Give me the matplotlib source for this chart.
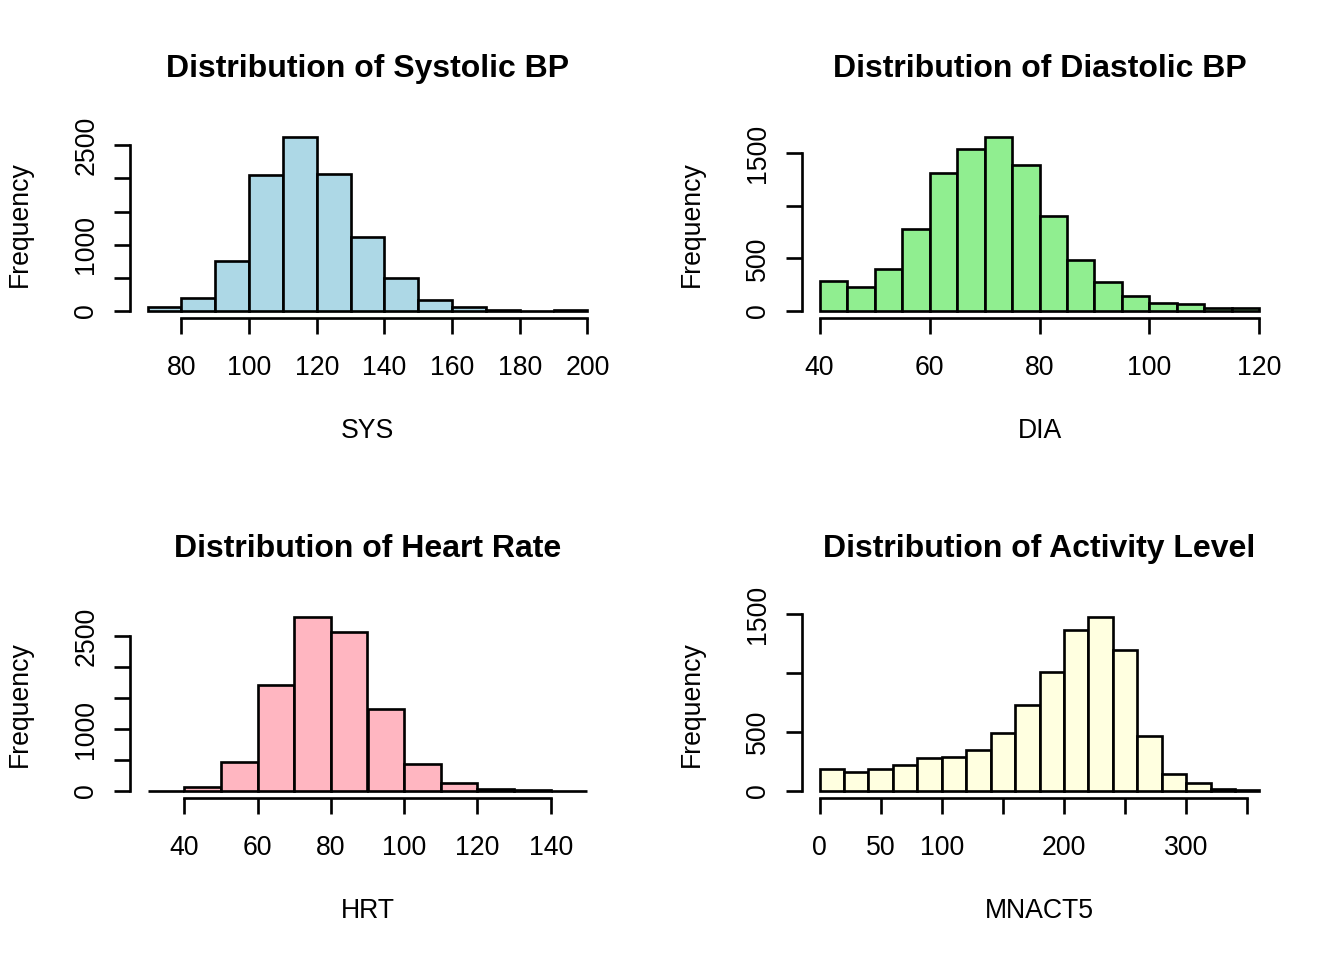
import numpy as np
import matplotlib
matplotlib.use("Agg")
import matplotlib.pyplot as plt

plt.rcParams["font.family"] = ["Liberation Sans", "DejaVu Sans"]

# --- Data (histogram counts per bin) --------------------------------------
sys_breaks = [70, 80, 90, 100, 110, 120, 130, 140, 150, 160, 170, 180, 190, 200]
sys_counts = [60, 200, 750, 2045, 2625, 2065, 1110, 505, 167, 61, 20, 5, 20]

dia_breaks = [40, 45, 50, 55, 60, 65, 70, 75, 80, 85, 90, 95, 100, 105, 110, 115, 120]
dia_counts = [286, 229, 400, 775, 1309, 1535, 1652, 1385, 899, 489, 280, 146, 79, 70, 32, 32]

hrt_breaks = [30, 40, 50, 60, 70, 80, 90, 100, 110, 120, 130, 140, 150]
hrt_counts = [1, 65, 472, 1719, 2815, 2570, 1323, 439, 130, 33, 16, 2]

act_breaks = [0, 20, 40, 60, 80, 100, 120, 140, 160, 180, 200, 220, 240,
              260, 280, 300, 320, 340, 360]
act_counts = [190, 165, 190, 219, 284, 293, 344, 489, 727, 1009, 1366, 1477,
              1196, 466, 148, 65, 20, 11]

sys_xticks = [80, 100, 120, 140, 160, 180, 200]
dia_xticks = [40, 60, 80, 100, 120]
hrt_xticks = [40, 60, 80, 100, 120, 140]
act_xticks = [0, 50, 100, 150, 200, 250, 300, 350]
act_xlabels = ["0", "50", "100", "", "200", "", "300", ""]

big_yticks = [0, 500, 1000, 1500, 2000, 2500]
big_ylabels = ["0", "", "1000", "", "", "2500"]
small_yticks = [0, 500, 1000, 1500]
small_ylabels = ["0", "500", "", "1500"]

panels = [
    ("Distribution of Systolic BP", "SYS", sys_breaks, sys_counts, "#ADD8E6",
     sys_xticks, None, big_yticks, big_ylabels),
    ("Distribution of Diastolic BP", "DIA", dia_breaks, dia_counts, "#90EE90",
     dia_xticks, None, small_yticks, small_ylabels),
    ("Distribution of Heart Rate", "HRT", hrt_breaks, hrt_counts, "#FFB6C1",
     hrt_xticks, None, big_yticks, big_ylabels),
    ("Distribution of Activity Level", "MNACT5", act_breaks, act_counts, "#FFFFE0",
     act_xticks, act_xlabels, small_yticks, small_ylabels),
]

W, H = 1344, 960
fig = plt.figure(figsize=(7, 5), dpi=192)

# plot region inside each 672x480 cell (pixels, from top-left)
PL, PR, PT, PB = 130, 605, 130, 318

for i, (title, xlab, breaks, counts, color, xt, xtl, yt, ytl) in enumerate(panels):
    col, row = i % 2, i // 2
    x0 = PL + 672 * col
    x1 = PR + 672 * col
    y0 = PT + 480 * row
    y1 = PB + 480 * row
    ax = fig.add_axes([x0 / W, 1 - y1 / H, (x1 - x0) / W, (y1 - y0) / H])

    edges = np.array(breaks, dtype=float)
    ax.bar(edges[:-1], counts, width=np.diff(edges), align="edge",
           color=color, edgecolor="black", linewidth=1.0)

    xr = edges[-1] - edges[0]
    ax.set_xlim(edges[0] - 0.04 * xr, edges[-1] + 0.04 * xr)
    ym = max(counts)
    ax.set_ylim(-0.04 * ym, 1.04 * ym)

    for s in ("top", "right"):
        ax.spines[s].set_visible(False)
    ax.spines["left"].set_bounds(yt[0], yt[-1])
    ax.spines["bottom"].set_bounds(xt[0], xt[-1])
    ax.spines["left"].set_linewidth(1.0)
    ax.spines["bottom"].set_linewidth(1.0)

    ax.set_xticks(xt)
    ax.set_xticklabels(xtl if xtl is not None else [str(v) for v in xt])
    ax.set_yticks(yt)
    ax.set_yticklabels(ytl, rotation=90, va="center")
    ax.tick_params(axis="x", direction="out", length=6, width=1.0,
                   labelsize=10, pad=8)
    ax.tick_params(axis="y", direction="out", length=6, width=1.0,
                   labelsize=10, pad=5.5)

    ax.text(0.5, (PB - 77) / (PB - PT), title, transform=ax.transAxes,
            ha="center", va="baseline", fontsize=12, fontweight="bold")
    ax.text(0.5, (PB - 438) / (PB - PT), xlab, transform=ax.transAxes,
            ha="center", va="baseline", fontsize=10)
    ax.text((27 - PL) / (PR - PL), 0.5, "Frequency", transform=ax.transAxes,
            rotation=90, rotation_mode="anchor", ha="center", va="baseline",
            fontsize=10)

fig.savefig("out.png", dpi=192)
